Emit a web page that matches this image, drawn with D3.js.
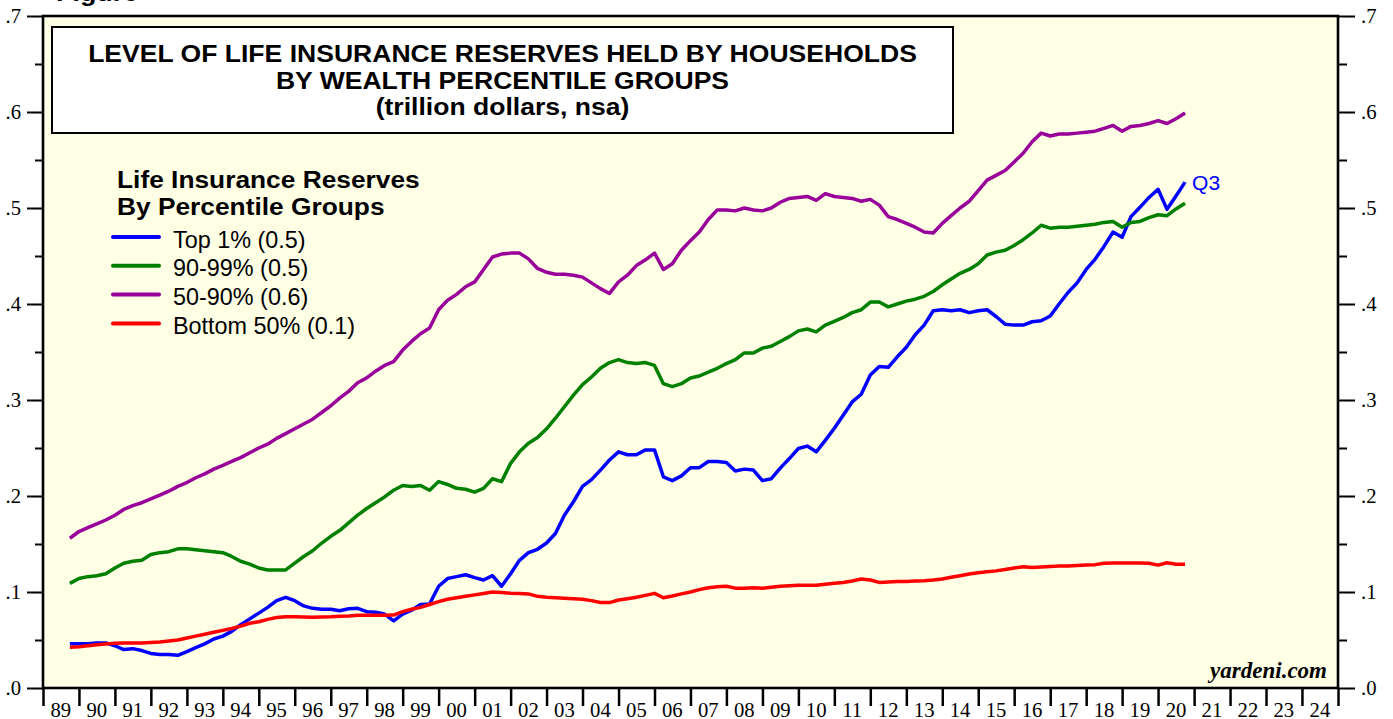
<!DOCTYPE html>
<html>
<head>
<meta charset="utf-8">
<script src="https://cdn.jsdelivr.net/npm/d3@7"></script>
<style>
  html, body { margin: 0; padding: 0; background: #fff; }
  svg { display: block; }
</style>
</head>
<body>
<div id="chart"></div>
<script>
// Data: quarterly, first point 1989Q3, last point 2020Q3 (trillion dollars)
const firstQuarter = { year: 1989, q: 3 };

const top1 = [
  .046, .046, .046, .047, .047, .044, .040, .041, .039, .036, .035, .035, .034, .038, .042, .046,
  .051, .054, .059, .066, .072, .078, .084, .091, .0945, .091, .0855, .083, .082, .082, .0805, .0826,
  .083, .0795, .079, .077, .070, .077, .081, .087, .0875, .106, .114, .116, .118, .115, .1125, .117,
  .106, .119, .133, .141, .1445, .151, .161, .180, .194, .210, .217, .227, .2375, .246, .243, .243,
  .248, .248, .220, .216, .221, .2295, .2295, .236, .236, .235, .226, .228, .227, .216, .218, .229,
  .239, .2495, .252, .246, .258, .2705, .284, .298, .306, .326, .335, .334, .345, .355, .368, .378,
  .393, .394, .393, .394, .391, .393, .394, .387, .379, .378, .378, .3815, .3826, .3875, .400, .412,
  .422, .436, .4465, .460, .475, .4695, .491, .5007, .511, .5195, .4986, .5125, .527
];

const p90to99 = [
  .109, .114, .116, .117, .119, .125, .130, .132, .133, .139, .141, .142, .145, .145, .144, .143,
  .142, .141, .137, .132, .129, .125, .123, .123, .123, .130, .137, .143, .151, .158, .164, .172,
  .180, .187, .193, .199, .206, .211, .210, .211, .206, .215, .212, .208, .207, .204, .208, .218,
  .215, .234, .246, .255, .261, .270, .281, .293, .305, .316, .324, .333, .339, .342, .339, .338,
  .339, .336, .317, .314, .317, .323, .325, .329, .333, .338, .342, .349, .349, .354, .356, .361,
  .366, .372, .374, .371, .378, .382, .386, .391, .394, .402, .402, .397, .400, .403, .405, .408,
  .413, .420, .426, .432, .436, .442, .451, .454, .456, .461, .467, .474, .482, .479, .480, .480,
  .481, .482, .483, .485, .486, .480, .485, .486, .490, .493, .492, .499, .505
];

const p50to90 = [
  .156, .163, .167, .171, .175, .180, .186, .190, .193, .197, .201, .205, .210, .214, .219, .223,
  .228, .232, .236, .240, .245, .250, .254, .260, .265, .270, .275, .280, .287, .294, .302, .309,
  .318, .323, .330, .336, .340, .352, .361, .369, .375, .394, .404, .410, .418, .423, .436, .449,
  .452, .453, .453, .447, .437, .433, .431, .431, .430, .428, .422, .416, .411, .423, .430, .440,
  .446, .453, .436, .442, .456, .466, .475, .488, .498, .498, .497, .500, .498, .497, .500, .506,
  .510, .511, .512, .508, .515, .512, .511, .510, .507, .509, .503, .491, .488, .484, .480, .475,
  .474, .484, .492, .500, .507, .518, .529, .534, .539, .548, .557, .569, .578, .575, .577, .577,
  .578, .579, .580, .583, .586, .580, .585, .586, .588, .591, .588, .593, .599
];

const bottom50 = [
  .0424, .043, .044, .045, .0458, .0465, .047, .047, .047, .0475, .048, .049, .050, .052, .054, .056,
  .058, .060, .062, .0645, .0674, .069, .0715, .0735, .0743, .0743, .074, .0736, .074, .0743, .0748, .075,
  .0757, .0757, .0757, .0757, .076, .0795, .082, .084, .087, .090, .0924, .094, .0955, .097, .0985, .100,
  .0995, .0986, .0985, .098, .0955, .0945, .094, .0935, .093, .0925, .091, .089, .089, .0917, .093, .0945,
  .0965, .0986, .094, .0958, .098, .100, .1025, .1045, .1055, .106, .104, .104, .1045, .104, .105, .106,
  .1065, .107, .107, .107, .108, .109, .110, .1115, .1135, .1125, .110, .1105, .111, .111, .1115, .1118,
  .1125, .1135, .1153, .117, .1188, .120, .121, .122, .1235, .125, .1264, .1255, .126, .1265, .127, .127,
  .1275, .128, .1285, .130, .1302, .1302, .1302, .1302, .130, .128, .1305, .129, .129
];

const seriesNames = ["Top 1% (0.5)", "90-99% (0.5)", "50-90% (0.6)", "Bottom 50% (0.1)"];
const seriesColors = ["#0000ff", "#008000", "#990099", "#ff0000"];
const seriesValues = [top1, p90to99, p50to90, bottom50];

const yTicks = [0, .1, .2, .3, .4, .5, .6, .7];
const yMinorTicks = [.05, .15, .25, .35, .45, .55, .65];
const years = d3.range(1989, 2025);

const titleLines = [
  "LEVEL OF LIFE INSURANCE RESERVES HELD BY HOUSEHOLDS",
  "BY WEALTH PERCENTILE GROUPS",
  "(trillion dollars, nsa)"
];
const legendTitle = ["Life Insurance Reserves", "By Percentile Groups"];

// Layout
const width = 1393, height = 719;
const plot = { left: 43, right: 1338, top: 16, bottom: 688 };
const sans = "'Liberation Sans', Arial, Helvetica, sans-serif";
const serif = "'Liberation Serif', 'Times New Roman', Times, serif";
const boldStretch = 1.12;

const svg = d3.select("#chart").append("svg")
  .attr("width", width)
  .attr("height", height);

svg.append("rect").attr("width", width).attr("height", height).attr("fill", "#fff");

// Scales
const x = d3.scaleTime()
  .domain([new Date(1989, 0, 1), new Date(2025, 0, 1)])
  .range([plot.left, plot.right]);
const y = d3.scaleLinear()
  .domain([0, 0.7])
  .range([plot.bottom, plot.top]);

// quarter-end date of point i
const quarterDate = i => new Date(firstQuarter.year, (firstQuarter.q) * 3 + i * 3, 1);

// Plot background
svg.append("rect")
  .attr("x", plot.left).attr("y", plot.top)
  .attr("width", plot.right - plot.left).attr("height", plot.bottom - plot.top)
  .attr("fill", "#ffffe6");

// Partially visible figure caption at very top
svg.append("text")
  .attr("transform", `translate(56,0.5) scale(${boldStretch},1)`)
  .attr("font-family", sans).attr("font-weight", "bold").attr("font-size", 24)
  .text("Figure");

// Lines
const line = d3.line()
  .x((d, i) => x(quarterDate(i)))
  .y(d => y(d));

svg.append("g").selectAll("path")
  .data(seriesValues)
  .join("path")
  .attr("d", line)
  .attr("fill", "none")
  .attr("stroke", (d, i) => seriesColors[i])
  .attr("stroke-width", 3.5)
  .attr("stroke-linejoin", "round");

// Q3 label at the end of the Top 1% line
svg.append("text")
  .attr("x", x(quarterDate(top1.length - 1)) + 7)
  .attr("y", y(top1[top1.length - 1]) + 8)
  .attr("font-family", sans).attr("font-size", 21)
  .attr("fill", "#0000ff")
  .text("Q3");

// Title box
const titleBox = svg.append("g");
titleBox.append("rect")
  .attr("x", 52).attr("y", 27).attr("width", 901).attr("height", 106)
  .attr("fill", "#fff").attr("stroke", "#000").attr("stroke-width", 2);
titleBox.selectAll("text")
  .data(titleLines)
  .join("text")
  .attr("transform", (d, i) => `translate(502.5,${62 + i * 26.5}) scale(${boldStretch},1)`)
  .attr("text-anchor", "middle")
  .attr("font-family", sans).attr("font-weight", "bold").attr("font-size", 23.7)
  .text(d => d);

// Legend
const legend = svg.append("g");
legend.selectAll("text.lt")
  .data(legendTitle)
  .join("text")
  .attr("class", "lt")
  .attr("transform", (d, i) => `translate(117,${188 + i * 27}) scale(${boldStretch},1)`)
  .attr("font-family", sans).attr("font-weight", "bold").attr("font-size", 23.5)
  .text(d => d);

const items = legend.selectAll("g.item")
  .data(seriesNames)
  .join("g")
  .attr("class", "item")
  .attr("transform", (d, i) => `translate(0,${237 + i * 28.8})`);
items.append("line")
  .attr("x1", 113).attr("x2", 159)
  .attr("stroke", (d, i) => seriesColors[i])
  .attr("stroke-width", 4)
  .attr("stroke-linecap", "round");
items.append("text")
  .attr("x", 173).attr("y", 10.5)
  .attr("font-family", sans).attr("font-size", 23.4)
  .attr("fill", "#000")
  .text(d => d);

// Watermark
svg.append("text")
  .attr("x", 1327).attr("y", 678)
  .attr("text-anchor", "end")
  .attr("font-family", serif).attr("font-weight", "bold").attr("font-style", "italic")
  .attr("font-size", 23)
  .text("yardeni.com");

// Y axes
const yFormat = d => d3.format(".1f")(d).replace(/^0/, "");

function styleAxis(g) {
  g.select(".domain").remove();
  g.selectAll(".tick line").attr("stroke", "#000").attr("stroke-width", 2);
  g.selectAll(".tick text")
    .attr("font-family", serif).attr("font-size", 20.7).attr("fill", "#000");
}

svg.append("g")
  .attr("transform", `translate(${plot.left},0)`)
  .call(d3.axisLeft(y).tickValues(yTicks).tickFormat(yFormat).tickSize(16).tickPadding(6))
  .call(styleAxis);
svg.append("g")
  .attr("transform", `translate(${plot.left},0)`)
  .call(d3.axisLeft(y).tickValues(yMinorTicks).tickFormat("").tickSize(8))
  .call(styleAxis);

svg.append("g")
  .attr("transform", `translate(${plot.right},0)`)
  .call(d3.axisRight(y).tickValues(yTicks).tickFormat(yFormat).tickSize(17).tickPadding(6))
  .call(styleAxis);
svg.append("g")
  .attr("transform", `translate(${plot.right},0)`)
  .call(d3.axisRight(y).tickValues(yMinorTicks).tickFormat("").tickSize(9))
  .call(styleAxis);

// X axis: ticks at year boundaries, labels centred within each year
const xAxis = svg.append("g")
  .attr("transform", `translate(0,${plot.bottom})`)
  .call(d3.axisBottom(x)
    .tickValues(years.concat([2025]).map(yr => new Date(yr, 0, 1)))
    .tickFormat("")
    .tickSize(18))
  .call(styleAxis);
xAxis.selectAll(".tick line").attr("stroke-width", 2.5);

svg.append("g").selectAll("text")
  .data(years)
  .join("text")
  .attr("x", yr => x(new Date(yr, 6, 1)))
  .attr("y", 717)
  .attr("text-anchor", "middle")
  .attr("font-family", serif).attr("font-size", 20.7)
  .text(yr => String(yr % 100).padStart(2, "0"));

// Plot frame
svg.append("rect")
  .attr("x", plot.left).attr("y", plot.top)
  .attr("width", plot.right - plot.left).attr("height", plot.bottom - plot.top)
  .attr("fill", "none").attr("stroke", "#000").attr("stroke-width", 2.6);
</script>
</body>
</html>
